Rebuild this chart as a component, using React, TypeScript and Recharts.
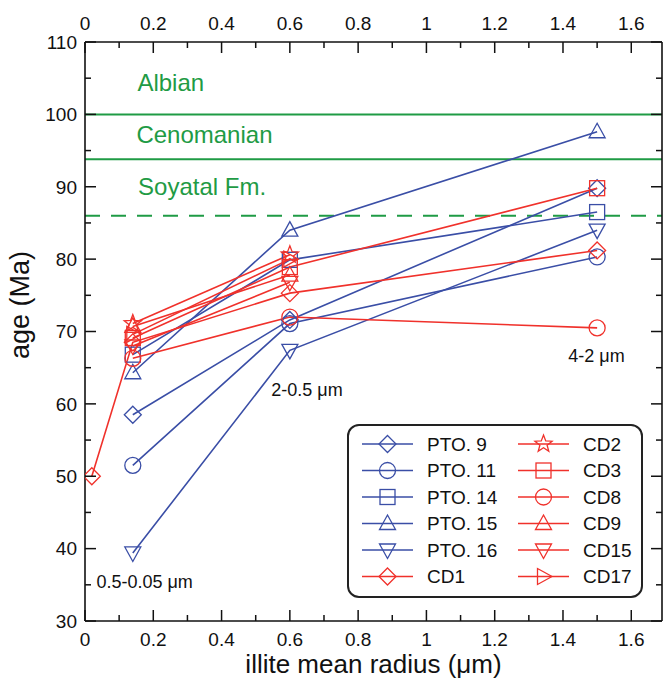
import React from "react";
import { LineChart, Line, XAxis, YAxis, ReferenceLine, ReferenceDot } from "recharts";

const BLUE = "#3a4ea6";
const RED = "#f0312b";
const GREEN = "#1f9b45";
const INK = "#111";
const FONT = "'Liberation Sans', Arial, sans-serif";

// illite mean radius of each size fraction (um)
const radius = [0.02, 0.14, 0.6, 1.5];

// ages (Ma) per sample, null = fraction not measured
const pto9 = [null, 58.5, 71.6, 89.8];
const pto11 = [null, 51.5, 71.1, 80.3];
const pto14 = [null, 66.8, 79.9, 86.5];
const pto15 = [null, 64.3, 84.0, 97.6];
const pto16 = [null, 39.4, 67.4, 84.0];
const cd1 = [50.0, 68.5, 75.3, 81.2];
const cd2 = [null, 71.1, 80.6, null];
const cd3 = [null, 69.1, 78.9, 89.8];
const cd8 = [null, 66.3, 72.0, 70.5];
const cd9 = [null, 70.7, 77.8, null];
const cd15 = [null, 68.0, 76.8, null];
const cd17 = [null, 69.6, 80.0, null];

const xMajor = [0, 0.2, 0.4, 0.6, 0.8, 1, 1.2, 1.4, 1.6];
const xMinor = [0.1, 0.3, 0.5, 0.7, 0.9, 1.1, 1.3, 1.5];
const yMajor = [30, 40, 50, 60, 70, 80, 90, 100, 110];
const yMinor = [35, 45, 55, 65, 75, 85, 95, 105];

// stratigraphic boundaries
const albianTop = 100;
const cenomanianTop = 93.8;
const soyatalTop = 86;

const series = [
  { name: "PTO. 9", values: pto9, color: BLUE, shape: "diamond" },
  { name: "PTO. 11", values: pto11, color: BLUE, shape: "circle" },
  { name: "PTO. 14", values: pto14, color: BLUE, shape: "square" },
  { name: "PTO. 15", values: pto15, color: BLUE, shape: "triangle" },
  { name: "PTO. 16", values: pto16, color: BLUE, shape: "triangleDown" },
  { name: "CD1", values: cd1, color: RED, shape: "diamond" },
  { name: "CD2", values: cd2, color: RED, shape: "star" },
  { name: "CD3", values: cd3, color: RED, shape: "square" },
  { name: "CD8", values: cd8, color: RED, shape: "circle" },
  { name: "CD9", values: cd9, color: RED, shape: "triangle" },
  { name: "CD15", values: cd15, color: RED, shape: "triangleDown" },
  { name: "CD17", values: cd17, color: RED, shape: "triangleRight" },
];

const toPoints = (values: (number | null)[]) =>
  radius.map((x, i) => ({ x, y: values[i] })).filter((p) => p.y !== null);

const xTicks = [...xMajor, ...xMinor].sort((a, b) => a - b);
const yTicks = [...yMajor, ...yMinor].sort((a, b) => a - b);

function Marker({ shape, cx, cy, color }: any) {
  const common = { fill: "none", stroke: color, strokeWidth: 1.3 };
  switch (shape) {
    case "diamond":
      return <polygon {...common} points={`${cx},${cy - 8.5} ${cx + 8.5},${cy} ${cx},${cy + 8.5} ${cx - 8.5},${cy}`} />;
    case "circle":
      return <circle {...common} cx={cx} cy={cy} r={8} />;
    case "square":
      return <rect {...common} x={cx - 7.5} y={cy - 7.5} width={15} height={15} />;
    case "triangle":
      return <polygon {...common} points={`${cx},${cy - 8.5} ${cx + 8},${cy + 6} ${cx - 8},${cy + 6}`} />;
    case "triangleDown":
      return <polygon {...common} points={`${cx},${cy + 8.5} ${cx + 8},${cy - 6} ${cx - 8},${cy - 6}`} />;
    case "triangleRight":
      return <polygon {...common} points={`${cx + 8.5},${cy} ${cx - 6},${cy + 8} ${cx - 6},${cy - 8}`} />;
    case "star": {
      const pts = [];
      for (let i = 0; i < 10; i++) {
        const r = i % 2 === 0 ? 9 : 3.8;
        const a = -Math.PI / 2 + (i * Math.PI) / 5;
        pts.push(`${cx + r * Math.cos(a)},${cy + r * Math.sin(a)}`);
      }
      return <polygon {...common} points={pts.join(" ")} />;
    }
    default:
      return null;
  }
}

const tickText = { fontSize: 19, fill: INK, fontFamily: FONT };

const BottomTick = ({ x, y, payload }: any) => {
  const major = xMajor.includes(payload.value);
  return (
    <g>
      <line x1={x} x2={x} y1={y} y2={y - (major ? 11 : 6)} stroke={INK} strokeWidth={1.5} />
      {major && (
        <text x={x} y={y + 12} dy="0.71em" textAnchor="middle" {...tickText}>
          {payload.value}
        </text>
      )}
    </g>
  );
};

const TopTick = ({ x, y, payload }: any) => {
  const major = xMajor.includes(payload.value);
  return (
    <g>
      <line x1={x} x2={x} y1={y} y2={y + (major ? 11 : 6)} stroke={INK} strokeWidth={1.5} />
      {major && (
        <text x={x} y={y - 12} textAnchor="middle" {...tickText}>
          {payload.value}
        </text>
      )}
    </g>
  );
};

const LeftTick = ({ x, y, payload }: any) => {
  const major = yMajor.includes(payload.value);
  return (
    <g>
      <line x1={x} x2={x + (major ? 11 : 6)} y1={y} y2={y} stroke={INK} strokeWidth={1.5} />
      {major && (
        <text x={x - 8} y={y} dy="0.36em" textAnchor="end" {...tickText}>
          {payload.value}
        </text>
      )}
    </g>
  );
};

const RightTick = ({ x, y, payload }: any) => {
  const major = yMajor.includes(payload.value);
  return <line x1={x} x2={x - (major ? 11 : 6)} y1={y} y2={y} stroke={INK} strokeWidth={1.5} />;
};

const note = (text: string, color: string, size: number) => ({
  content: ({ viewBox }: any) => (
    <text x={viewBox.x} y={viewBox.y} dy="0.36em" fill={color} fontSize={size} fontFamily={FONT}>
      {text}
    </text>
  ),
});

function LegendBox() {
  const rowY = (i: number) => 20 + i * 26.5;
  return (
    <div
      style={{
        position: "absolute",
        left: 347,
        top: 424,
        width: 296,
        height: 174,
        border: "2px solid #222",
        borderRadius: 12,
        boxSizing: "border-box",
        background: "#fff",
      }}
    >
      <svg width={296} height={174} style={{ position: "absolute", left: -2, top: -2 }}>
        {series.map((s, i) => {
          const col = i < 6 ? 0 : 1;
          const row = i % 6;
          const x0 = col === 0 ? 15 : 171;
          const y = rowY(row);
          return (
            <g key={s.name}>
              <line x1={x0} x2={x0 + 51} y1={y} y2={y} stroke={s.color} strokeWidth={1.6} />
              <Marker shape={s.shape} cx={x0 + 25.5} cy={y} color={s.color} />
              <text x={x0 + 65} y={y} dy="0.36em" fontSize={19} fill={INK} fontFamily={FONT}>
                {s.name}
              </text>
            </g>
          );
        })}
      </svg>
    </div>
  );
}

export default function App() {
  return (
    <div style={{ position: "absolute", left: 0, top: 0, width: 663, height: 681, background: "#fff" }}>
      <LineChart width={663} height={681} margin={{ top: 12, right: 0, bottom: 0, left: 0 }}>
        <XAxis
          xAxisId="bottom"
          dataKey="x"
          type="number"
          domain={[0, 1.69]}
          allowDataOverflow
          ticks={xTicks}
          interval={0}
          height={60}
          tickSize={0}
          tickMargin={0}
          tick={BottomTick}
          axisLine={{ stroke: INK, strokeWidth: 1.6 }}
          label={{
            content: ({ viewBox }: any) => (
              <text
                x={viewBox.x + viewBox.width / 2}
                y={673}
                textAnchor="middle"
                fontSize={26}
                fill={INK}
                fontFamily={FONT}
              >
                illite mean radius (μm)
              </text>
            ),
          }}
        />
        <XAxis
          xAxisId="top"
          orientation="top"
          dataKey="x"
          type="number"
          domain={[0, 1.69]}
          allowDataOverflow
          ticks={xTicks}
          interval={0}
          height={30}
          tickSize={0}
          tickMargin={0}
          tick={TopTick}
          axisLine={{ stroke: INK, strokeWidth: 1.6 }}
        />
        <YAxis
          yAxisId="left"
          type="number"
          domain={[30, 110]}
          allowDataOverflow
          ticks={yTicks}
          interval={0}
          width={85}
          tickSize={0}
          tickMargin={0}
          tick={LeftTick}
          axisLine={{ stroke: INK, strokeWidth: 1.6 }}
          label={{
            content: () => (
              <text
                x={19}
                y={305}
                transform="rotate(-90 19 305)"
                dy="0.36em"
                textAnchor="middle"
                fontSize={27}
                fill={INK}
                fontFamily={FONT}
              >
                age (Ma)
              </text>
            ),
          }}
        />
        <YAxis
          yAxisId="right"
          orientation="right"
          type="number"
          domain={[30, 110]}
          allowDataOverflow
          ticks={yTicks}
          interval={0}
          width={1}
          tickSize={0}
          tickMargin={0}
          tick={RightTick}
          axisLine={{ stroke: INK, strokeWidth: 1.6 }}
        />

        <ReferenceLine xAxisId="bottom" yAxisId="left" y={albianTop} stroke={GREEN} strokeWidth={2} />
        <ReferenceLine xAxisId="bottom" yAxisId="left" y={cenomanianTop} stroke={GREEN} strokeWidth={2} />
        <ReferenceLine
          xAxisId="bottom"
          yAxisId="left"
          y={soyatalTop}
          stroke={GREEN}
          strokeWidth={2}
          strokeDasharray="15 11"
        />

        <ReferenceDot xAxisId="bottom" yAxisId="left" x={0.155} y={104.3} r={0.5} fill="none" stroke="none" label={note("Albian", GREEN, 24)} />
        <ReferenceDot xAxisId="bottom" yAxisId="left" x={0.152} y={97.2} r={0.5} fill="none" stroke="none" label={note("Cenomanian", GREEN, 24)} />
        <ReferenceDot xAxisId="bottom" yAxisId="left" x={0.157} y={90.0} r={0.5} fill="none" stroke="none" label={note("Soyatal Fm.", GREEN, 24)} />
        <ReferenceDot xAxisId="bottom" yAxisId="left" x={0.035} y={35.4} r={0.5} fill="none" stroke="none" label={note("0.5-0.05 μm", INK, 18)} />
        <ReferenceDot xAxisId="bottom" yAxisId="left" x={0.547} y={61.9} r={0.5} fill="none" stroke="none" label={note("2-0.5 μm", INK, 18)} />
        <ReferenceDot xAxisId="bottom" yAxisId="left" x={1.417} y={66.6} r={0.5} fill="none" stroke="none" label={note("4-2 μm", INK, 18)} />

        {series.map((s) => (
          <Line
            key={s.name}
            xAxisId="bottom"
            yAxisId="left"
            data={toPoints(s.values)}
            dataKey="y"
            name={s.name}
            type="linear"
            stroke={s.color}
            strokeWidth={1.6}
            isAnimationActive={false}
            activeDot={false}
            dot={(p: any) => <Marker key={`${s.name}-${p.index}`} shape={s.shape} cx={p.cx} cy={p.cy} color={s.color} />}
          />
        ))}
      </LineChart>
      <LegendBox />
    </div>
  );
}
